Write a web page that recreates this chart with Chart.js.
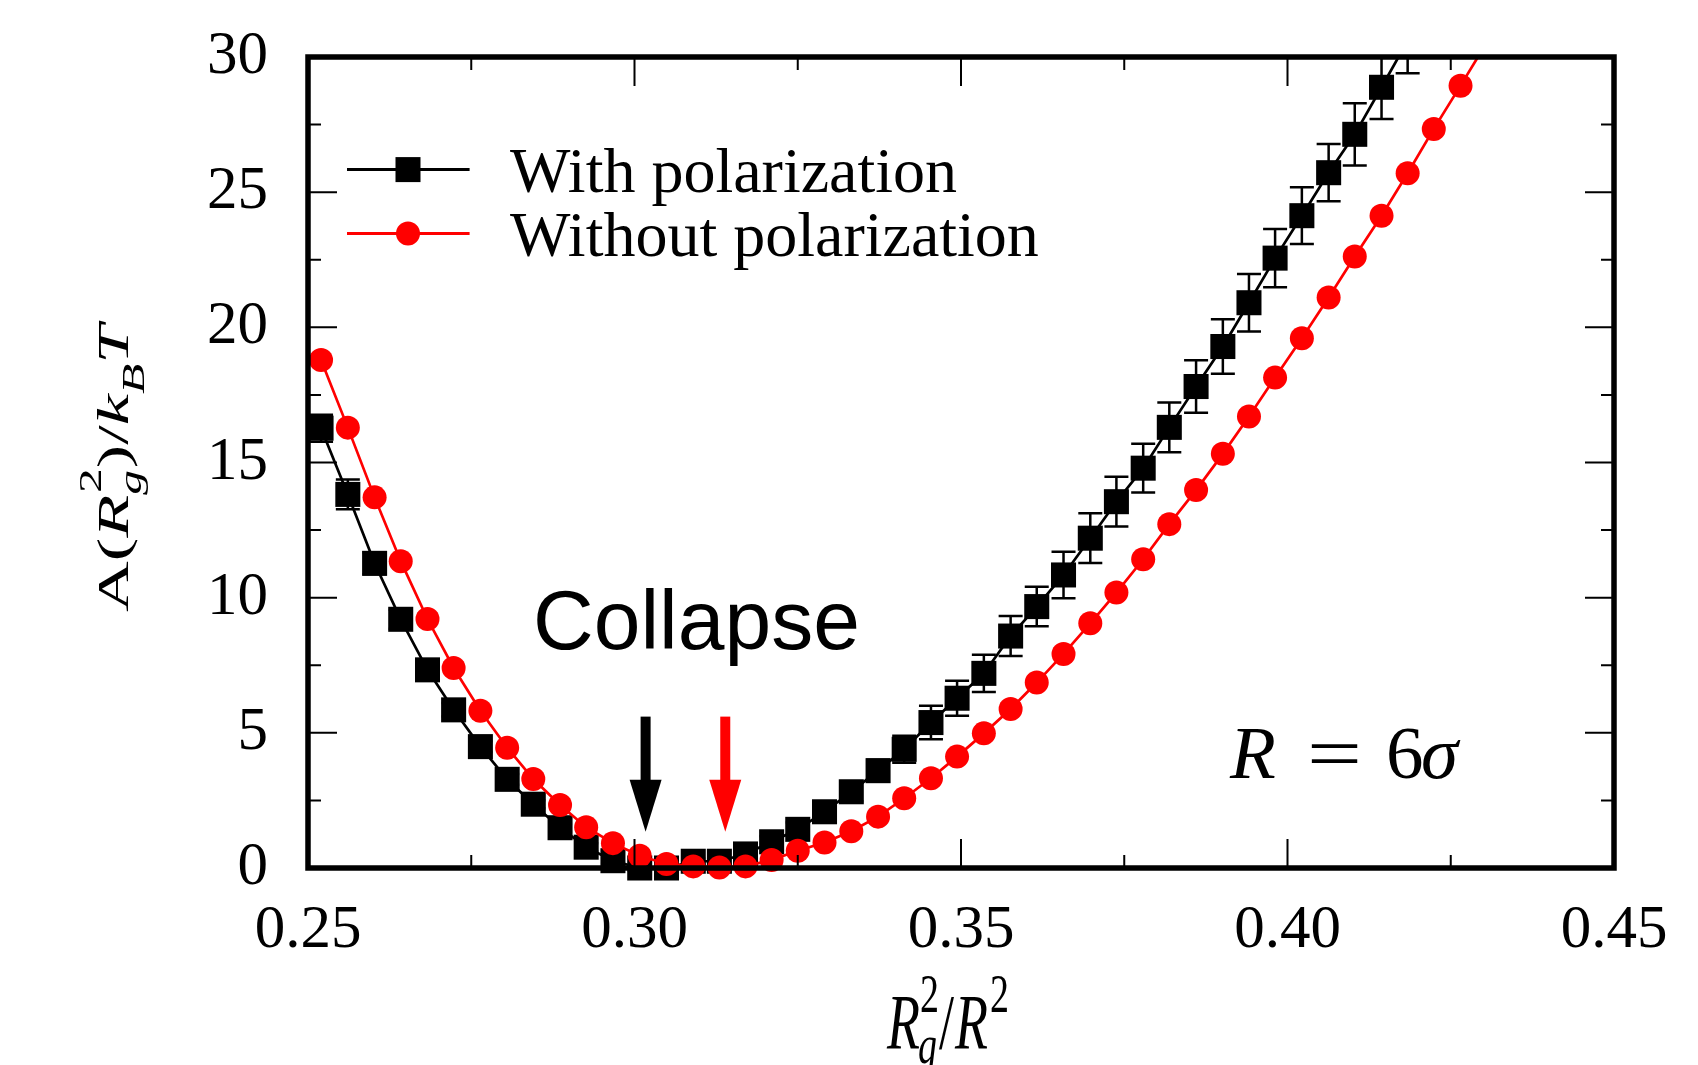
<!DOCTYPE html>
<html lang="en">
<head>
<meta charset="utf-8">
<title>A(Rg2)/kBT</title>
<script src="https://cdn.jsdelivr.net/npm/chart.js@4.4.1/dist/chart.umd.min.js"></script>
<style>
  html, body { margin: 0; padding: 0; background: #fff; }
  #caixa { width: 1698px; height: 1065px; }
</style>
</head>
<body>
<div id="caixa"><canvas id="grafico" width="1698" height="1065"></canvas></div>
<script>
// eixo x: Rg^2 / R^2
const rg2 = [
  0.2520, 0.2561, 0.2602, 0.2642, 0.2683, 0.2723, 0.2764, 0.2805, 0.2845, 0.2886,
  0.2926, 0.2967, 0.3008, 0.3049, 0.3090, 0.3130, 0.3170, 0.3210, 0.3250, 0.3291,
  0.3332, 0.3373, 0.3413, 0.3454, 0.3494, 0.3535, 0.3576, 0.3616, 0.3657, 0.3698,
  0.3738, 0.3779, 0.3819, 0.3860, 0.3901, 0.3941, 0.3981, 0.4022, 0.4063, 0.4103,
  0.4144, 0.4184, 0.4224, 0.4265, 0.4306
];

// A(Rg^2)/kBT com polarização (quadrados pretos) e barras de erro
const comPolarizacao = [
  16.27, 13.82, 11.27, 9.20, 7.33, 5.85, 4.49, 3.28, 2.36, 1.49,
  0.77, 0.27, 0.00, 0.00, 0.25, 0.25, 0.52, 0.97, 1.43, 2.08,
  2.82, 3.60, 4.39, 5.38, 6.28, 7.20, 8.58, 9.67, 10.84, 12.20,
  13.55, 14.79, 16.30, 17.81, 19.29, 20.91, 22.56, 24.13, 25.72, 27.14,
  28.88, 30.60
];
const erroComPolarizacao = [
  0.50, 0.55, 0.40, 0.35, 0.30, 0.25, 0.20, 0.20, 0.15, 0.15,
  0.15, 0.10, 0.10, 0.10, 0.10, 0.10, 0.15, 0.20, 0.25, 0.30,
  0.35, 0.40, 0.50, 0.62, 0.65, 0.69, 0.74, 0.73, 0.86, 0.92,
  0.92, 0.90, 0.92, 0.97, 1.01, 1.06, 1.08, 1.05, 1.06, 1.15,
  1.17, 1.20
];

// sem polarização (círculos vermelhos)
const semPolarizacao = [
  18.79, 16.29, 13.71, 11.35, 9.21, 7.40, 5.82, 4.45, 3.29, 2.33,
  1.51, 0.92, 0.45, 0.15, 0.06, 0.02, 0.06, 0.30, 0.64, 0.94,
  1.36, 1.90, 2.58, 3.32, 4.12, 4.98, 5.88, 6.86, 7.92, 9.05,
  10.19, 11.42, 12.72, 13.98, 15.32, 16.70, 18.14, 19.60, 21.10, 22.62,
  24.13, 25.70, 27.34, 28.94, 30.57
];

// ticks com rótulo (os intermediários ficam sem texto)
const ticksX = [0.25, 0.30, 0.35, 0.40, 0.45];
const ticksY = [0, 5, 10, 15, 20, 25, 30];

// posição dos mínimos marcados pelas setas
const minimos = [0.3017, 0.3139];
const coresSetas = ['#000000', '#ff0000'];

const legendas = ['With polarization', 'Without polarization'];

const SERIF = '"Liberation Serif", "Times New Roman", serif';
const SANS = '"Liberation Sans", Arial, sans-serif';

function temRotulo(valor, lista) {
  return lista.some(v => Math.abs(v - valor) < 1e-6);
}

function pontos(ys) {
  return ys.map((y, i) => ({ x: rg2[i], y: y }));
}

// desenha uma sequência de trechos (texto normal, índice, expoente)
function desenharTrechos(ctx, trechos) {
  let u = 0;
  trechos.forEach(t => {
    if (t.grupo) {
      let maior = 0;
      t.grupo.forEach(s => {
        ctx.font = s.fonte;
        ctx.fillText(s.texto, u + (s.dx || 0), s.dy || 0);
        maior = Math.max(maior, ctx.measureText(s.texto).width + (s.dx || 0));
      });
      u += maior;
    } else {
      ctx.font = t.fonte;
      ctx.fillText(t.texto, u, t.dy || 0);
      u += ctx.measureText(t.texto).width + (t.extra || 0);
    }
  });
}

// barras de erro da série com polarização
const barrasErro = {
  id: 'barrasErro',
  beforeDatasetsDraw(chart) {
    const { ctx, chartArea, scales } = chart;
    ctx.save();
    ctx.beginPath();
    ctx.rect(chartArea.left, chartArea.top, chartArea.width, chartArea.height + 30);
    ctx.clip();
    ctx.strokeStyle = '#000';
    ctx.lineWidth = 2.5;
    comPolarizacao.forEach((y, i) => {
      const px = scales.x.getPixelForValue(rg2[i]);
      const cima = scales.y.getPixelForValue(y + erroComPolarizacao[i]);
      const baixo = scales.y.getPixelForValue(y - erroComPolarizacao[i]);
      ctx.beginPath();
      ctx.moveTo(px, cima); ctx.lineTo(px, baixo);
      ctx.moveTo(px - 12, cima); ctx.lineTo(px + 12, cima);
      ctx.moveTo(px - 12, baixo); ctx.lineTo(px + 12, baixo);
      ctx.stroke();
    });
    ctx.restore();
  }
};

// moldura, ticks para dentro, setas, legenda e textos
const moldura = {
  id: 'moldura',
  afterDatasetsDraw(chart) {
    const { ctx, chartArea: a, scales } = chart;
    const sx = scales.x, sy = scales.y;
    ctx.save();

    // setas dos mínimos
    minimos.forEach((m, i) => {
      const px = sx.getPixelForValue(m);
      const topo = sy.getPixelForValue(5.6);
      const ponta = sy.getPixelForValue(1.34);
      ctx.fillStyle = coresSetas[i];
      ctx.fillRect(px - 5, topo, 10, ponta - topo - 50);
      ctx.beginPath();
      ctx.moveTo(px - 16, ponta - 52);
      ctx.lineTo(px + 16, ponta - 52);
      ctx.lineTo(px, ponta);
      ctx.closePath();
      ctx.fill();
    });

    // ticks
    ctx.strokeStyle = '#000';
    ctx.lineWidth = 2;
    ctx.beginPath();
    sx.ticks.forEach(t => {
      const px = sx.getPixelForValue(t.value);
      const len = temRotulo(t.value, ticksX) ? 29 : 13;
      ctx.moveTo(px, a.bottom); ctx.lineTo(px, a.bottom - len);
      ctx.moveTo(px, a.top); ctx.lineTo(px, a.top + len);
    });
    sy.ticks.forEach(t => {
      const py = sy.getPixelForValue(t.value);
      const len = temRotulo(t.value, ticksY) ? 29 : 13;
      ctx.moveTo(a.left, py); ctx.lineTo(a.left + len, py);
      ctx.moveTo(a.right, py); ctx.lineTo(a.right - len, py);
    });
    ctx.stroke();

    ctx.lineWidth = 5.5;
    ctx.strokeRect(a.left, a.top, a.width, a.height);
    ctx.restore();
  },
  afterDraw(chart) {
    const { ctx, chartArea: a } = chart;
    ctx.save();
    ctx.fillStyle = '#000';
    ctx.textBaseline = 'alphabetic';

    // legenda
    const estilos = [
      { cor: '#000000', forma: 'quadrado' },
      { cor: '#ff0000', forma: 'circulo' }
    ];
    legendas.forEach((txt, i) => {
      const y = a.top + 112.6 + i * 64;
      const x0 = a.left + 39, x1 = a.left + 161.6, xm = a.left + 100;
      ctx.strokeStyle = estilos[i].cor;
      ctx.fillStyle = estilos[i].cor;
      ctx.lineWidth = 3;
      ctx.beginPath();
      ctx.moveTo(x0, y); ctx.lineTo(x1, y);
      ctx.stroke();
      if (estilos[i].forma === 'quadrado') {
        ctx.fillRect(xm - 12.5, y - 12.5, 25, 25);
      } else {
        ctx.beginPath();
        ctx.arc(xm, y, 12, 0, Math.PI * 2);
        ctx.fill();
      }
      ctx.fillStyle = '#000';
      ctx.font = '64px ' + SERIF;
      ctx.fillText(txt, a.left + 202, y + 22.4);
    });

    // rótulo "Collapse"
    ctx.font = '84px ' + SANS;
    ctx.fillText('Collapse', 533, 649);

    // R = 6σ
    ctx.font = 'italic 75px ' + SERIF;
    ctx.fillText('R', 1230, 778);
    ctx.save();
    ctx.translate(1307, 778);
    ctx.scale(1.3, 1);
    ctx.font = '75px ' + SERIF;
    ctx.fillText('=', 0, 0);
    ctx.restore();
    ctx.font = '75px ' + SERIF;
    ctx.fillText('6', 1386, 778);
    ctx.font = 'italic 75px ' + SERIF;
    ctx.fillText('σ', 1421, 778);

    // título do eixo x: Rg^2/R^2 (esticado na vertical)
    ctx.save();
    ctx.translate(887, 1048);
    ctx.scale(1, 1.45);
    desenharTrechos(ctx, [
      { texto: 'R', fonte: 'italic 54px ' + SERIF, extra: -2 },
      { grupo: [
        { texto: '2', fonte: '38px ' + SERIF, dy: -25, dx: 2 },
        { texto: 'g', fonte: 'italic 38px ' + SERIF, dy: 10 }
      ] },
      { texto: '/', fonte: '54px ' + SERIF, extra: 1 },
      { texto: 'R', fonte: 'italic 54px ' + SERIF, extra: 2 },
      { texto: '2', fonte: '38px ' + SERIF, dy: -25 }
    ]);
    ctx.restore();

    // título do eixo y: A(Rg^2)/kBT (girado e esticado)
    ctx.save();
    ctx.translate(128, 612);
    ctx.rotate(-Math.PI / 2);
    ctx.scale(1.6, 1);
    desenharTrechos(ctx, [
      { texto: 'A(', fonte: '44px ' + SERIF },
      { texto: 'R', fonte: 'italic 44px ' + SERIF },
      { grupo: [
        { texto: '2', fonte: '31px ' + SERIF, dy: -27, dx: 1 },
        { texto: 'g', fonte: 'italic 31px ' + SERIF, dy: 13 }
      ] },
      { texto: ')/', fonte: '44px ' + SERIF },
      { texto: 'k', fonte: 'italic 44px ' + SERIF },
      { texto: 'B', fonte: 'italic 31px ' + SERIF, dy: 16 },
      { texto: 'T', fonte: 'italic 44px ' + SERIF }
    ]);
    ctx.restore();

    ctx.restore();
  }
};

const ctx = document.getElementById('grafico').getContext('2d');

new Chart(ctx, {
  type: 'line',
  data: {
    datasets: [
      {
        label: legendas[1],
        data: pontos(semPolarizacao),
        borderColor: '#ff0000',
        backgroundColor: '#ff0000',
        borderWidth: 2.7,
        pointStyle: 'circle',
        pointRadius: 12,
        pointHoverRadius: 12,
        pointBorderWidth: 0,
        tension: 0,
        order: 0,
        clip: { left: false, top: 0, right: 0, bottom: false }
      },
      {
        label: legendas[0],
        data: pontos(comPolarizacao),
        borderColor: '#000000',
        backgroundColor: '#000000',
        borderWidth: 2.7,
        pointStyle: 'rect',
        pointRadius: 17.7,
        pointHoverRadius: 17.7,
        pointBorderWidth: 0,
        tension: 0,
        order: 1,
        clip: { left: false, top: 0, right: 0, bottom: false }
      }
    ]
  },
  options: {
    responsive: false,
    animation: false,
    devicePixelRatio: 1,
    layout: { padding: { top: 57, right: 84, left: 0, bottom: 0 } },
    plugins: {
      legend: { display: false },
      tooltip: { enabled: false }
    },
    scales: {
      x: {
        type: 'linear',
        min: 0.25,
        max: 0.45,
        border: { display: false },
        grid: { display: false, drawTicks: false },
        ticks: {
          stepSize: 0.025,
          autoSkip: false,
          maxRotation: 0,
          padding: 26,
          color: '#000',
          font: { family: SERIF, size: 61 },
          callback: v => temRotulo(v, ticksX) ? v.toFixed(2) : ''
        },
        afterFit: s => { s.height = 197; s.paddingLeft = 0; s.paddingRight = 0; }
      },
      y: {
        min: 0,
        max: 30,
        border: { display: false },
        grid: { display: false, drawTicks: false },
        ticks: {
          stepSize: 2.5,
          autoSkip: false,
          padding: 40,
          color: '#000',
          font: { family: SERIF, size: 61 },
          callback: v => temRotulo(v, ticksY) ? String(v) : ''
        },
        afterFit: s => { s.width = 308; s.paddingTop = 0; s.paddingBottom = 0; }
      }
    }
  },
  plugins: [barrasErro, moldura]
});
</script>
</body>
</html>
